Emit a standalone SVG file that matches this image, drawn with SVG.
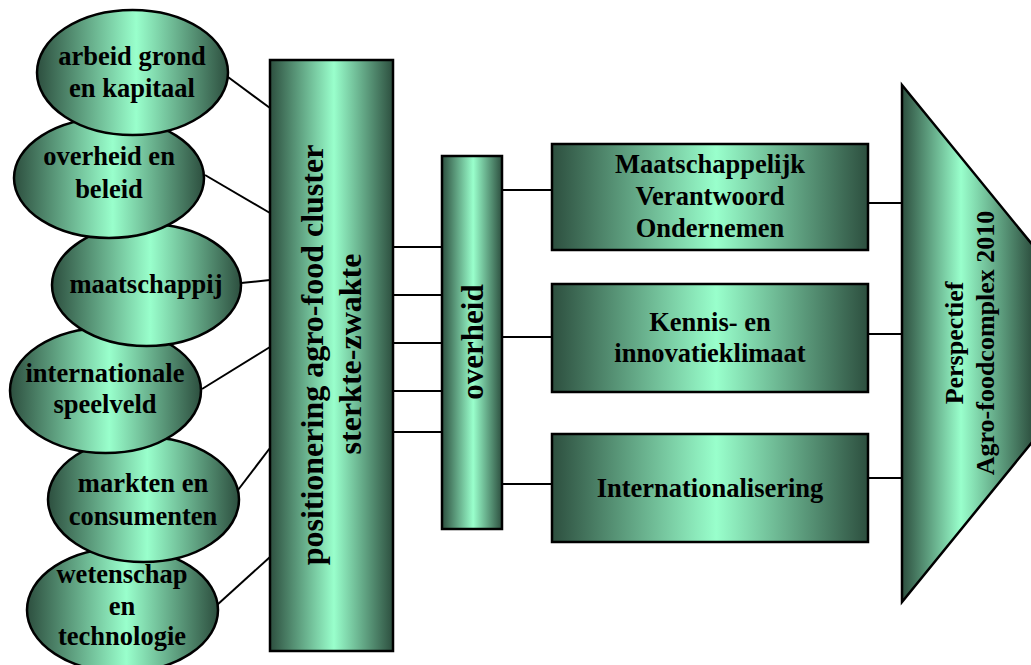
<svg xmlns="http://www.w3.org/2000/svg" width="1031" height="665" viewBox="0 0 1031 665">
<defs>
<linearGradient id="g" x1="0" y1="0" x2="1" y2="0">
<stop offset="0" stop-color="#2d4f3f"/>
<stop offset="0.52" stop-color="#99ffcc"/>
<stop offset="1" stop-color="#2d4f3f"/>
</linearGradient>
<linearGradient id="gt" x1="0" y1="0" x2="1" y2="0">
<stop offset="0" stop-color="#2d4f3f"/>
<stop offset="0.45" stop-color="#99ffcc"/>
<stop offset="1" stop-color="#2d4f3f"/>
</linearGradient>
</defs>
<style>
.s{fill:url(#g);stroke:#000;stroke-width:2.5}
.t{font-family:"Liberation Serif","Times New Roman",serif;font-weight:bold;fill:#000;text-anchor:middle}
.e{font-size:26.5px}
.c line{stroke:#000;stroke-width:2}
</style>
<g class="c" id="connectors">
<line x1="228" y1="77" x2="270" y2="108"/>
<line x1="205" y1="175" x2="270" y2="213"/>
<line x1="241" y1="283" x2="270" y2="280"/>
<line x1="202" y1="389" x2="270" y2="347"/>
<line x1="238" y1="490" x2="270" y2="448"/>
<line x1="217" y1="605" x2="270" y2="557"/>
<line x1="393" y1="247" x2="442" y2="247"/>
<line x1="393" y1="295" x2="442" y2="295"/>
<line x1="393" y1="343" x2="442" y2="343"/>
<line x1="393" y1="391" x2="442" y2="391"/>
<line x1="393" y1="432" x2="442" y2="432"/>
<line x1="502" y1="190" x2="552" y2="190"/>
<line x1="502" y1="337" x2="552" y2="337"/>
<line x1="502" y1="484" x2="552" y2="484"/>
<line x1="868" y1="203" x2="902" y2="203"/>
<line x1="868" y1="334" x2="902" y2="334"/>
<line x1="868" y1="478" x2="902" y2="478"/>
</g>
<g id="e6"><ellipse class="s" cx="122.5" cy="610" rx="95.5" ry="62"/>
<text class="t e" x="122" y="583">wetenschap</text><text class="t e" x="122" y="615">en</text><text class="t e" x="122" y="645">technologie</text></g>
<g id="e5"><ellipse class="s" cx="143.5" cy="499.5" rx="95.5" ry="62.5"/>
<text class="t e" x="143" y="492">markten en</text><text class="t e" x="143" y="525">consumenten</text></g>
<g id="e4"><ellipse class="s" cx="105.5" cy="390.5" rx="95.5" ry="62.5"/>
<text class="t e" x="105" y="382">internationale</text><text class="t e" x="105" y="413">speelveld</text></g>
<g id="e3"><ellipse class="s" cx="146.5" cy="285" rx="94.5" ry="61"/>
<text class="t e" x="146" y="293">maatschappij</text></g>
<g id="e2"><ellipse class="s" cx="109" cy="178" rx="95" ry="60"/>
<text class="t e" x="109" y="165">overheid en</text><text class="t e" x="109" y="198">beleid</text></g>
<g id="e1"><ellipse class="s" cx="132.5" cy="72.5" rx="95.5" ry="62.5"/>
<text class="t e" x="132" y="65">arbeid grond</text><text class="t e" x="132" y="97">en kapitaal</text></g>
<g id="main"><rect class="s" x="270" y="60" width="123" height="591"/>
<text class="t" font-size="32" transform="translate(323,355) rotate(-90)">positionering agro-food cluster</text>
<text class="t" font-size="32" transform="translate(361,354) rotate(-90)">sterkte-zwakte</text></g>
<g id="overheid"><rect class="s" x="442" y="156" width="60" height="373"/>
<text class="t" font-size="31" transform="translate(483,342) rotate(-90)">overheid</text></g>
<g id="mvo"><rect class="s" x="552" y="144" width="316" height="106"/>
<text class="t e" x="710" y="173">Maatschappelijk</text><text class="t e" x="710" y="205">Verantwoord</text><text class="t e" x="710" y="237">Ondernemen</text></g>
<g id="kennis"><rect class="s" x="552" y="284" width="316" height="108"/>
<text class="t e" x="710" y="331">Kennis- en</text><text class="t e" x="710" y="362">innovatieklimaat</text></g>
<g id="intl"><rect class="s" x="552" y="434" width="316" height="108"/>
<text class="t e" x="710" y="497">Internationalisering</text></g>
<g id="perspectief"><polygon points="902,85 1033,245.5 1033,441 902,602" fill="url(#gt)" stroke="#000" stroke-width="2.5" stroke-linejoin="miter"/>
<text class="t" font-size="26" transform="translate(963,343) rotate(-90)">Perspectief</text>
<text class="t" font-size="26" transform="translate(994,343) rotate(-90)">Agro-foodcomplex 2010</text></g>
</svg>
